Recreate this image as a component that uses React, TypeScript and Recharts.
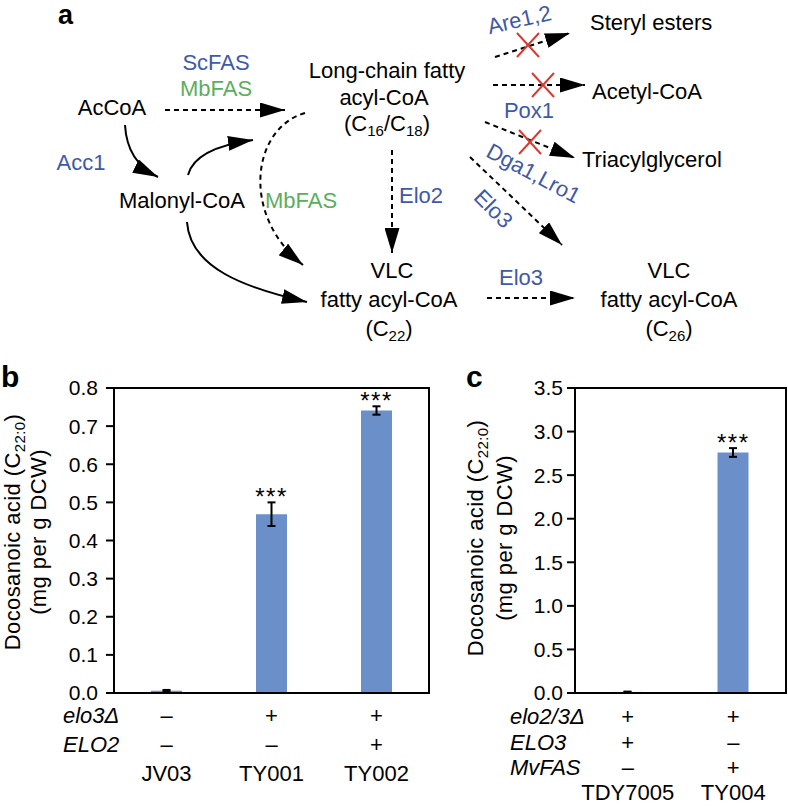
import React from 'react';
import { ComposedChart, Bar, XAxis, YAxis, ErrorBar, Line, LabelList, Cell, CartesianGrid } from 'recharts';

const FONT = '"Liberation Sans", Arial, Helvetica, sans-serif';
const BLUE_TEXT = '#3f59a8';
const GREEN_TEXT = '#5aae5c';
const BAR_BLUE = '#6b8fc8';
const CROSS_RED = '#d93a30';

// ---------- Panel b data ----------
const strainsB = ['JV03', 'TY001', 'TY002'];
const elo3DeletionB = ['–', '+', '+'];
const elo2B = ['–', '–', '+'];
const valuesB = [0.006, 0.469, 0.741];
const errorsB = [0.002, 0.031, 0.011];
const sigB = ['', '***', '***'];
const ticksB = [0, 0.1, 0.2, 0.3, 0.4, 0.5, 0.6, 0.7, 0.8];
const rowLabelsB = ['elo3Δ', 'ELO2'];

// ---------- Panel c data ----------
const strainsC = ['TDY7005', 'TY004'];
const elo23DeletionC = ['+', '+'];
const elo3C = ['+', '–'];
const mvfasC = ['–', '+'];
const valuesC = [0.012, 2.76];
const errorsC = [0.004, 0.05];
const sigC = ['', '***'];
const ticksC = [0, 0.5, 1.0, 1.5, 2.0, 2.5, 3.0, 3.5];
const rowLabelsC = ['elo2/3Δ', 'ELO3', 'MvFAS'];

const dataB = strainsB.map((s, i) => ({
  strain: s,
  value: valuesB[i],
  err: errorsB[i],
  top: valuesB[i] + errorsB[i],
  sig: sigB[i],
}));
const dataC = strainsC.map((s, i) => ({
  strain: s,
  value: valuesC[i],
  err: errorsC[i],
  top: valuesC[i] + errorsC[i],
  sig: sigC[i],
}));

const axisStroke = { stroke: '#000', strokeWidth: 2 };

const StarLabel = (p: any) => {
  if (!p.value) return null;
  return (
    <text x={p.x} y={p.y + 3} textAnchor="middle" fontSize={24} letterSpacing={1.5} fontFamily={FONT} fill="#000">
      {p.value}
    </text>
  );
};

const YLabel = (p: any) => {
  const { x1, x2, cy } = p;
  return (
    <g fontFamily={FONT} fontSize={22} fill="#000">
      <text transform={`translate(${x1},${cy}) rotate(-90)`} textAnchor="middle" letterSpacing={0.4}>
        Docosanoic acid (C<tspan fontSize={15} dy={5}>22:0</tspan><tspan dy={-5}>)</tspan>
      </text>
      <text transform={`translate(${x2},${cy}) rotate(-90)`} textAnchor="middle" letterSpacing={0.4}>
        (mg per g DCW)
      </text>
    </g>
  );
};

const TickB = (p: any) => {
  const { x, y, index } = p;
  return (
    <g fontFamily={FONT} fontSize={22} fill="#000">
      <text x={x} y={y + 30} textAnchor="middle" fill="#000">{elo3DeletionB[index]}</text>
      <text x={x} y={y + 59} textAnchor="middle" fill="#000">{elo2B[index]}</text>
      <text x={x} y={y + 88} textAnchor="middle" fill="#000">{strainsB[index]}</text>
      {index === 0 && (
        <g fontStyle="italic">
          <text x={63} y={y + 30} fill="#000">{rowLabelsB[0]}</text>
          <text x={63} y={y + 59} fill="#000">{rowLabelsB[1]}</text>
        </g>
      )}
    </g>
  );
};

const TickC = (p: any) => {
  const { x, y, index } = p;
  return (
    <g fontFamily={FONT} fontSize={22} fill="#000">
      <text x={x} y={y + 31} textAnchor="middle" fill="#000">{elo23DeletionC[index]}</text>
      <text x={x} y={y + 57} textAnchor="middle" fill="#000">{elo3C[index]}</text>
      <text x={x} y={y + 82} textAnchor="middle" fill="#000">{mvfasC[index]}</text>
      <text x={x} y={y + 107} textAnchor="middle" fill="#000">{strainsC[index]}</text>
      {index === 0 && (
        <g fontStyle="italic">
          <text x={90} y={y + 31} fill="#000">{rowLabelsC[0]}</text>
          <text x={90} y={y + 57} fill="#000">{rowLabelsC[1]}</text>
          <text x={90} y={y + 82} fill="#000">{rowLabelsC[2]}</text>
        </g>
      )}
    </g>
  );
};

const Sub = ({ children }: any) => (
  <tspan fontSize={15} dy={5}>{children}</tspan>
);

const Cross = ({ cx, cy }: { cx: number; cy: number }) => (
  <g stroke={CROSS_RED} strokeWidth={2}>
    <line x1={cx - 11} y1={cy - 12} x2={cx + 11} y2={cy + 12} />
    <line x1={cx - 11} y1={cy + 12} x2={cx + 11} y2={cy - 12} />
  </g>
);

// layout of each chart box
const CH_TOP = 370;
const CH_H = 436;
const M_TOP = 18;
const M_BOTTOM = 13;
const X_AXIS_H = 100;
const Y_AXIS_W = 60;
const B_X = 0, B_W = 440, B_LEFT = 54, B_RIGHT = 11;
const C_X = 420, C_W = 368, C_LEFT = 95, C_RIGHT = 2;

// plot frame (top + right border) as an HTML box
const FrameBox = ({ boxX, w, left, right }: { boxX: number; w: number; left: number; right: number }) => {
  const x0 = boxX + left + Y_AXIS_W;
  const x1 = boxX + w - right;
  const y0 = CH_TOP + M_TOP;
  const y1 = CH_TOP + CH_H - M_BOTTOM - X_AXIS_H;
  return (
    <div
      style={{
        position: 'absolute',
        left: x0,
        top: y0 - 1,
        width: x1 - x0 - 1,
        height: y1 - y0,
        borderTop: '2px solid #000',
        borderRight: '2px solid #000',
        boxSizing: 'content-box',
        zIndex: 6,
        pointerEvents: 'none',
      }}
    />
  );
};

const Diagram = () => {
  const dash = { stroke: '#000', strokeWidth: 2, strokeDasharray: '5 4', fill: 'none', markerEnd: 'url(#ah)' };
  const solid = { stroke: '#000', strokeWidth: 2, fill: 'none', markerEnd: 'url(#ah)' };
  return (
    <svg width={788} height={806} style={{ position: 'absolute', left: 0, top: 0, zIndex: 5, pointerEvents: 'none' }} fontFamily={FONT} fontSize={22}>
      <defs>
        <marker id="ah" viewBox="0 0 25 15" refX="25" refY="7.5" markerWidth="25" markerHeight="15" markerUnits="userSpaceOnUse" orient="auto">
          <path d="M0,0 L25,7.5 L0,15 Z" fill="#000" />
        </marker>
      </defs>
      <text x={58} y={24} fontSize={27} fontWeight="bold">a</text>
      <text x={1} y={387} fontSize={30} fontWeight="bold">b</text>
      <text x={466} y={387} fontSize={30} fontWeight="bold">c</text>

      {/* left part */}
      <text x={112} y={115} textAnchor="middle">AcCoA</text>
      <text x={216} y={70} textAnchor="middle" fill={BLUE_TEXT}>ScFAS</text>
      <text x={216} y={96} textAnchor="middle" fill={GREEN_TEXT}>MbFAS</text>
      <path d="M165,110 L285,110" {...dash} />

      <text x={387} y={78} textAnchor="middle">Long-chain fatty</text>
      <text x={384} y={105} textAnchor="middle">acyl-CoA</text>
      <text x={387} y={131} textAnchor="middle">
        (C<Sub>16</Sub><tspan dy={-5}>/C</tspan><Sub>18</Sub><tspan dy={-5}>)</tspan>
      </text>

      <text x={81} y={170} textAnchor="middle" fill={BLUE_TEXT}>Acc1</text>
      <path d="M125,125 Q127,162 158,177" {...solid} />

      <text x={182} y={208} textAnchor="middle">Malonyl-CoA</text>
      <path d="M188,175 Q195,148 253,140" {...solid} />
      <path d="M305,113 C252,128 240,215 303,265" {...dash} />
      <text x={301} y={208} textAnchor="middle" fill={GREEN_TEXT}>MbFAS</text>
      <path d="M187,222 C190,268 245,288 307,302" {...solid} />

      <path d="M392,150 L392,253" {...dash} />
      <text x={421} y={203} textAnchor="middle" fill={BLUE_TEXT}>Elo2</text>

      <text x={392} y={278} textAnchor="middle">VLC</text>
      <text x={389} y={307} textAnchor="middle">fatty acyl-CoA</text>
      <text x={389} y={336} textAnchor="middle">
        (C<Sub>22</Sub><tspan dy={-5}>)</tspan>
      </text>

      {/* right part */}
      <text transform="translate(521,27) rotate(-13)" textAnchor="middle" fill={BLUE_TEXT}>Are1,2</text>
      <path d="M495,57 L570,33" {...dash} />
      <Cross cx={528} cy={45} />
      <text x={590} y={30}>Steryl esters</text>

      <path d="M493,85 L585,85" {...dash} />
      <Cross cx={543} cy={85} />
      <text x={592} y={99}>Acetyl-CoA</text>
      <text x={529} y={118} textAnchor="middle" fill={BLUE_TEXT}>Pox1</text>

      <path d="M485,122 L575,158" {...dash} />
      <Cross cx={530} cy={142} />
      <text x={582} y={167}>Triacylglycerol</text>

      <text transform="translate(530,180) rotate(28)" textAnchor="middle" fill={BLUE_TEXT}>Dga1,Lro1</text>
      <path d="M470,157 L562,245" {...dash} />
      <text transform="translate(488,214) rotate(45)" textAnchor="middle" fill={BLUE_TEXT}>Elo3</text>

      <text x={521} y={285} textAnchor="middle" fill={BLUE_TEXT}>Elo3</text>
      <path d="M487,298 L575,298" {...dash} />

      <text x={669} y={278} textAnchor="middle">VLC</text>
      <text x={669} y={307} textAnchor="middle">fatty acyl-CoA</text>
      <text x={669} y={336} textAnchor="middle">
        (C<Sub>26</Sub><tspan dy={-5}>)</tspan>
      </text>
    </svg>
  );
};

const tickStyle = { fill: '#000', fontSize: 21, fontFamily: FONT };

const ChartB = () => (
  <div style={{ position: 'absolute', left: B_X, top: CH_TOP, width: B_W, height: CH_H }}>
    <ComposedChart width={B_W} height={CH_H} data={dataB} margin={{ top: M_TOP, right: B_RIGHT, bottom: M_BOTTOM, left: B_LEFT }}>
      <CartesianGrid
        vertical={false}
        horizontalValues={[0.8]}
        stroke="#000"
        strokeWidth={2}
        strokeDasharray="0"
      />
      <XAxis
        dataKey="strain"
        height={X_AXIS_H}
        interval={0}
        tickLine={false}
        tickSize={0}
        tickMargin={0}
        axisLine={axisStroke}
        tick={(p: any) => <TickB {...p} />}
      />
      <YAxis
        domain={[0, 0.8]}
        ticks={ticksB}
        interval={0}
        width={Y_AXIS_W}
        tickSize={8}
        tickMargin={8}
        tickFormatter={(v: number) => v.toFixed(1)}
        tick={tickStyle}
        tickLine={axisStroke}
        axisLine={axisStroke}
        label={<YLabel x1={20} x2={46} cy={162} />}
      />
      <Bar dataKey="value" fill={BAR_BLUE} barSize={31} isAnimationActive={false}>
        <ErrorBar dataKey="err" width={4} strokeWidth={2} stroke="#000" direction="y" isAnimationActive={false} />
      </Bar>
      <Line dataKey="top" stroke="none" dot={false} activeDot={false} isAnimationActive={false} legendType="none">
        <LabelList dataKey="sig" content={StarLabel} />
      </Line>
    </ComposedChart>
  </div>
);

const ChartC = () => (
  <div style={{ position: 'absolute', left: C_X, top: CH_TOP, width: C_W, height: CH_H }}>
    <ComposedChart width={C_W} height={CH_H} data={dataC} margin={{ top: M_TOP, right: C_RIGHT, bottom: M_BOTTOM, left: C_LEFT }}>
      <CartesianGrid
        vertical={false}
        horizontalValues={[3.5]}
        stroke="#000"
        strokeWidth={2}
        strokeDasharray="0"
      />
      <XAxis
        dataKey="strain"
        height={X_AXIS_H}
        interval={0}
        tickLine={false}
        tickSize={0}
        tickMargin={0}
        axisLine={axisStroke}
        tick={(p: any) => <TickC {...p} />}
      />
      <YAxis
        domain={[0, 3.5]}
        ticks={ticksC}
        interval={0}
        width={Y_AXIS_W}
        tickSize={8}
        tickMargin={4}
        tickFormatter={(v: number) => v.toFixed(1)}
        tick={tickStyle}
        tickLine={axisStroke}
        axisLine={axisStroke}
        label={<YLabel x1={63} x2={92} cy={168} />}
      />
      <Bar dataKey="value" fill={BAR_BLUE} barSize={31} isAnimationActive={false}>
        {dataC.map((d, i) => (
          <Cell key={i} fill={d.value < 0.05 ? '#222' : BAR_BLUE} />
        ))}
        <ErrorBar dataKey="err" width={4} strokeWidth={2} stroke="#000" direction="y" isAnimationActive={false} />
      </Bar>
      <Line dataKey="top" stroke="none" dot={false} activeDot={false} isAnimationActive={false} legendType="none">
        <LabelList dataKey="sig" content={StarLabel} />
      </Line>
    </ComposedChart>
  </div>
);

export default function App() {
  return (
    <div style={{ position: 'absolute', left: 0, top: 0, width: 788, height: 806, background: '#fff', overflow: 'hidden' }}>
      <ChartB />
      <ChartC />
      <Diagram />
      <FrameBox boxX={B_X} w={B_W} left={B_LEFT} right={B_RIGHT} />
      <FrameBox boxX={C_X} w={C_W} left={C_LEFT} right={C_RIGHT} />
    </div>
  );
}
